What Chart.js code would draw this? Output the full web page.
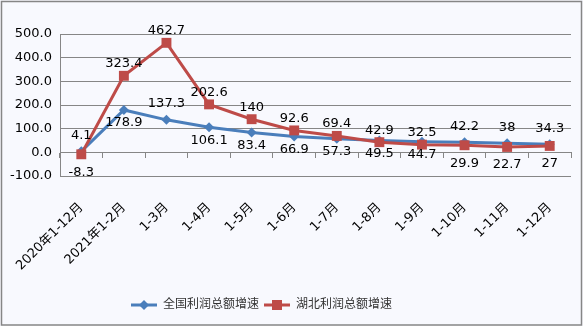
<!DOCTYPE html>
<html>
<head>
<meta charset="utf-8">
<script src="https://cdn.jsdelivr.net/npm/chart.js@4/dist/chart.umd.min.js"></script>
<style>
  html, body { margin: 0; padding: 0; background: #fff; }
  #wrap { width: 583px; height: 326px; position: relative; }
</style>
</head>
<body>
<div id="wrap"><canvas id="profitChart" width="583" height="326"></canvas></div>
<script>
const categories = ["2020年1-12月", "2021年1-2月", "1-3月", "1-4月", "1-5月", "1-6月",
  "1-7月", "1-8月", "1-9月", "1-10月", "1-11月", "1-12月"];
const nationalGrowth = [4.1, 178.9, 137.3, 106.1, 83.4, 66.9, 57.3, 49.5, 44.7, 42.2, 38, 34.3];
const hubeiGrowth = [-8.3, 323.4, 462.7, 202.6, 140, 92.6, 69.4, 42.9, 32.5, 29.9, 22.7, 27];
const yTicks = { min: -100, max: 500, step: 100 };

// where each value label sits relative to its point
const nationalLabelPos = ["up", "down", "up", "down", "down", "down", "down", "down", "down", "up", "up", "up"];
const hubeiLabelPos = ["down", "up", "up", "up", "up", "up", "up", "up", "up", "down", "down", "down"];

const FONT = "'DejaVu Sans', 'Noto Sans CJK SC', sans-serif";
const BLUE = "#4A7EBB";
const RED = "#BE4B48";

function legendSwatch(color, shape) {
  const c = document.createElement("canvas");
  c.width = 26; c.height = 14;
  const g = c.getContext("2d");
  g.strokeStyle = color;
  g.lineWidth = 3;
  g.beginPath(); g.moveTo(0, 7); g.lineTo(26, 7); g.stroke();
  g.fillStyle = color;
  if (shape === "diamond") {
    g.beginPath(); g.moveTo(13, 2); g.lineTo(18, 7); g.lineTo(13, 12); g.lineTo(8, 7); g.closePath(); g.fill();
  } else {
    g.fillRect(8, 2, 10, 10);
  }
  return c;
}
const swatches = [legendSwatch(BLUE, "diamond"), legendSwatch(RED, "square")];

const chartBg = {
  id: "chartBg",
  beforeDraw(chart) {
    const ctx = chart.ctx;
    ctx.save();
    ctx.fillStyle = "#F8F9FE";
    ctx.fillRect(0, 0, chart.width, chart.height);
    ctx.strokeStyle = "#868686";
    ctx.lineWidth = 1.5;
    ctx.strokeRect(1.5, 1.5, chart.width - 3, chart.height - 2.5);
    ctx.restore();
  }
};

const valueLabels = {
  id: "valueLabels",
  afterDatasetsDraw(chart) {
    const ctx = chart.ctx;
    ctx.save();
    ctx.font = "13px " + FONT;
    ctx.fillStyle = "#000";
    ctx.textAlign = "center";
    ctx.textBaseline = "middle";
    chart.data.datasets.forEach((ds, i) => {
      const meta = chart.getDatasetMeta(i);
      meta.data.forEach((pt, j) => {
        const dy = ds.labelPos[j] === "up" ? -ds.labelGap[0] : ds.labelGap[1];
        ctx.fillText(String(ds.data[j]), pt.x, pt.y + dy);
      });
    });
    ctx.restore();
  }
};

const shiftLegend = {
  id: "shiftLegend",
  afterLayout(chart) {
    chart.legend.left -= 24;
    chart.legend.right -= 24;
  }
};

const ctx = document.getElementById("profitChart").getContext("2d");
new Chart(ctx, {
  type: "line",
  data: {
    labels: categories,
    datasets: [
      {
        label: "全国利润总额增速", data: nationalGrowth, labelPos: nationalLabelPos, labelGap: [16, 13],
        borderColor: BLUE, backgroundColor: BLUE, borderWidth: 3,
        pointStyle: "rectRot", pointRadius: 5, pointBorderWidth: 0,
        tension: 0, order: 1
      },
      {
        label: "湖北利润总额增速", data: hubeiGrowth, labelPos: hubeiLabelPos, labelGap: [12, 18],
        borderColor: RED, backgroundColor: RED, borderWidth: 3,
        pointStyle: "rect", pointRadius: 7, pointBorderWidth: 0,
        tension: 0, order: 0
      }
    ]
  },
  options: {
    responsive: false,
    animation: false,
    layout: { padding: { top: 34, right: 12, bottom: 5, left: 0 } },
    plugins: {
      tooltip: { enabled: false },
      legend: {
        position: "bottom",
        labels: {
          usePointStyle: true,
          pointStyleWidth: 26,
          padding: 5,
          color: "#333",
          font: { family: FONT, size: 12 },
          sort: (a, b) => a.datasetIndex - b.datasetIndex,
          generateLabels(chart) {
            const items = Chart.defaults.plugins.legend.labels.generateLabels(chart);
            items.forEach(it => { it.pointStyle = swatches[it.datasetIndex]; });
            return items;
          }
        }
      }
    },
    scales: {
      x: {
        offset: true,
        grid: { display: true, drawOnChartArea: false, drawTicks: true, tickLength: 12, color: "rgba(0,0,0,0)" },
        border: { display: false },
        ticks: {
          minRotation: 45, maxRotation: 45, padding: 12, autoSkip: false,
          color: "#000", font: { family: FONT, size: 13 }
        },
        afterFit(scale) { scale.height = 118; }
      },
      xZero: {
        type: "category",
        offset: true,
        position: { y: 0 },
        grid: { offset: true, drawOnChartArea: false, drawTicks: true, tickLength: 5, color: "#868686" },
        border: { display: true, color: "#868686", width: 1 },
        ticks: { display: false }
      },
      y: {
        min: yTicks.min, max: yTicks.max,
        grid: { color: "#868686", drawTicks: false },
        border: { color: "#868686" },
        ticks: {
          stepSize: yTicks.step, padding: 8, color: "#000",
          font: { family: FONT, size: 13 },
          callback: v => v.toFixed(1)
        },
        afterFit(scale) { scale.width = 60; }
      }
    }
  },
  plugins: [chartBg, valueLabels, shiftLegend]
});
</script>
</body>
</html>
